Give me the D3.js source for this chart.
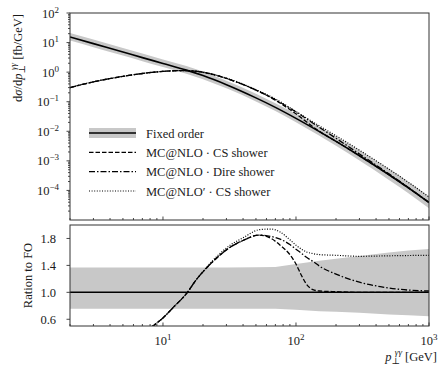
<!DOCTYPE html>
<html>
<head>
<meta charset="utf-8">
<style>
  body { margin: 0; background: white; }
  svg { display: block; }
  text { font-family: "Liberation Serif", "DejaVu Serif", serif; fill: #1a1a1a; }
  .frame { fill: none; stroke: #333; stroke-width: 1; }
  .tick { stroke: #333; stroke-width: 0.9; }
</style>
</head>
<body>
<script src="https://d3js.org/d3.v7.min.js"></script>
<script>

// --- data ---
// pT points (GeV) of the fixed order curve and its band
var pt = [2, 3, 5, 7, 10, 15, 20, 30, 50, 70, 100, 150, 200, 300, 500, 700, 1000];
var fixedOrder = [15.5, 9.2, 4.8, 3.1, 1.97, 1.17, 0.764, 0.376, 0.135, 0.0645, 0.0274, 0.00975, 0.00455, 0.00149, 0.000339, 0.000122, 0.0000388];
// scale band, relative to fixed order
var bandUp = [1.37, 1.37, 1.37, 1.37, 1.37, 1.37, 1.37, 1.37, 1.372, 1.375, 1.42, 1.47, 1.50, 1.54, 1.59, 1.62, 1.645];
var bandLo = [0.755, 0.755, 0.755, 0.755, 0.755, 0.755, 0.755, 0.755, 0.755, 0.755, 0.742, 0.72, 0.71, 0.695, 0.67, 0.66, 0.645];
// shower curves in the upper panel
var csShower   = [0.3, 0.47, 0.72, 0.9, 1.06, 1.13, 0.99, 0.61, 0.248, 0.113, 0.039, 0.0099, 0.0046, 0.00149, 0.000339, 0.000122, 0.0000388];
var direShower = [0.3, 0.47, 0.72, 0.9, 1.06, 1.13, 0.99, 0.61, 0.248, 0.117, 0.045, 0.01355, 0.00578, 0.00171, 0.000363, 0.000126, 0.0000396];
var csPrime    = [0.3, 0.47, 0.72, 0.9, 1.06, 1.13, 1.0, 0.63, 0.256, 0.124, 0.0466, 0.0152, 0.00705, 0.00229, 0.000522, 0.000188, 0.0000601];

// ratio panel
var ptRatio   = [7, 8.4, 10, 12, 15, 18, 21, 25, 32, 40, 53, 65, 76, 90, 100, 110, 120, 134, 150, 200, 300, 430, 600, 1000];
var ratioCS   = [0.38, 0.5, 0.62, 0.78, 0.98, 1.2, 1.35, 1.5, 1.67, 1.77, 1.85, 1.80, 1.70, 1.56, 1.42, 1.25, 1.12, 1.04, 1.02, 1.01, 1.0, 1.0, 1.0, 1.0];
var ratioDire = [0.38, 0.5, 0.62, 0.78, 0.98, 1.2, 1.35, 1.5, 1.67, 1.77, 1.85, 1.83, 1.79, 1.71, 1.64, 1.58, 1.52, 1.46, 1.39, 1.27, 1.15, 1.085, 1.045, 1.02];
var ratioCSp  = [0.38, 0.5, 0.62, 0.78, 0.98, 1.2, 1.36, 1.52, 1.70, 1.81, 1.93, 1.94, 1.895, 1.78, 1.70, 1.64, 1.60, 1.575, 1.56, 1.55, 1.535, 1.54, 1.545, 1.55];

var yTopTicks = [-4, -3, -2, -1, 0, 1, 2];
var yRatioTicks = [0.6, 1.0, 1.4, 1.8];
var xTicks = [1, 2, 3];

var legendNames = ["Fixed order", "MC@NLO · CS shower", "MC@NLO · Dire shower", "MC@NLO′ · CS shower"];

var width = 439, height = 368;
var left = 70, right = 429;
var top1 = 13, bot1 = 220, top2 = 225, bot2 = 326;

var svg = d3.select("body").append("svg")
    .attr("width", width)
    .attr("height", height);

var x = d3.scaleLog().domain([2, 1000]).range([left, right]);
var y1 = d3.scaleLog().domain([1e-5, 1e2]).range([bot1, top1]);
var y2 = d3.scaleLinear().domain([0.5, 2.0]).range([bot2, top2]);

var defs = svg.append("defs");
defs.append("clipPath").attr("id", "clipTop").append("rect")
    .attr("x", left).attr("y", top1).attr("width", right - left).attr("height", bot1 - top1);
defs.append("clipPath").attr("id", "clipBot").append("rect")
    .attr("x", left).attr("y", top2).attr("width", right - left).attr("height", bot2 - top2);

var styles = [
  {dash: null, w: 1.6},
  {dash: "4.5,2", w: 1.3},
  {dash: "6,2,1.5,2", w: 1.3},
  {dash: "1,1.6", w: 1.2}
];

// ---------- upper panel ----------
var gTop = svg.append("g").attr("clip-path", "url(#clipTop)");

var topData = pt.map(function(p, i) {
  return {p: p, fo: fixedOrder[i], up: fixedOrder[i] * bandUp[i], lo: fixedOrder[i] * bandLo[i]};
});

gTop.append("path")
    .datum(topData)
    .attr("fill", "#c8c8c8")
    .attr("d", d3.area()
      .x(function(d) { return x(d.p); })
      .y0(function(d) { return y1(d.lo); })
      .y1(function(d) { return y1(d.up); })
      .curve(d3.curveMonotoneX));

var lineTop = d3.line()
    .x(function(d) { return x(d[0]); })
    .y(function(d) { return y1(d[1]); })
    .curve(d3.curveMonotoneX);

[fixedOrder, csShower, direShower, csPrime].forEach(function(series, k) {
  gTop.append("path")
      .datum(pt.map(function(p, i) { return [p, series[i]]; }))
      .attr("fill", "none")
      .attr("stroke", "#000")
      .attr("stroke-width", styles[k].w)
      .attr("stroke-dasharray", styles[k].dash)
      .attr("d", lineTop);
});

svg.append("rect").attr("class", "frame")
    .attr("x", left).attr("y", top1).attr("width", right - left).attr("height", bot1 - top1);

// ---------- ratio panel ----------
var gBot = svg.append("g").attr("clip-path", "url(#clipBot)");

gBot.append("path")
    .datum(pt.map(function(p, i) { return [p, bandLo[i], bandUp[i]]; }))
    .attr("fill", "#c8c8c8")
    .attr("d", d3.area()
      .x(function(d) { return x(d[0]); })
      .y0(function(d) { return y2(d[1]); })
      .y1(function(d) { return y2(d[2]); }));

gBot.append("line")
    .attr("x1", left).attr("x2", right)
    .attr("y1", y2(1)).attr("y2", y2(1))
    .attr("stroke", "#000").attr("stroke-width", 1.5);

var lineBot = d3.line()
    .x(function(d) { return x(d[0]); })
    .y(function(d) { return y2(d[1]); })
    .curve(d3.curveMonotoneX);

[ratioCS, ratioDire, ratioCSp].forEach(function(series, k) {
  gBot.append("path")
      .datum(ptRatio.map(function(p, i) { return [p, series[i]]; }))
      .attr("fill", "none")
      .attr("stroke", "#000")
      .attr("stroke-width", styles[k + 1].w)
      .attr("stroke-dasharray", styles[k + 1].dash)
      .attr("d", lineBot);
});

svg.append("rect").attr("class", "frame")
    .attr("x", left).attr("y", top2).attr("width", right - left).attr("height", bot2 - top2);

// ---------- ticks ----------
function powLabel(g, xp, yp, exp, anchor) {
  var t = g.append("text")
      .attr("x", xp).attr("y", yp)
      .attr("text-anchor", anchor)
      .style("font-size", "12.5px");
  t.append("tspan").text("10");
  t.append("tspan").attr("dy", -5).style("font-size", "9px")
      .text(exp < 0 ? "−" + (-exp) : exp);
  return t;
}

var minorX = [];
[1, 10, 100].forEach(function(dec) {
  for (var m = 1; m < 10; m++) {
    var v = dec * m;
    if (v >= 2 && v <= 1000 && m != 1) minorX.push(v);
  }
});

[bot1, bot2].forEach(function(yb) {
  svg.selectAll(null).data(minorX).enter().append("line")
      .attr("class", "tick")
      .attr("x1", function(d) { return x(d); }).attr("x2", function(d) { return x(d); })
      .attr("y1", yb).attr("y2", yb - 2);
  svg.selectAll(null).data([10, 100, 1000]).enter().append("line")
      .attr("class", "tick")
      .attr("x1", function(d) { return x(d); }).attr("x2", function(d) { return x(d); })
      .attr("y1", yb).attr("y2", yb - 3.5);
});

xTicks.forEach(function(e) {
  powLabel(svg, x(Math.pow(10, e)), 345, e, "middle");
});

// y ticks, upper panel
var minorY = [];
for (var e = -5; e < 2; e++) {
  for (var m = 2; m < 10; m++) minorY.push(m * Math.pow(10, e));
}
svg.selectAll(null).data(minorY).enter().append("line")
    .attr("class", "tick")
    .attr("x1", left - 2).attr("x2", left)
    .attr("y1", function(d) { return y1(d); }).attr("y2", function(d) { return y1(d); });
svg.selectAll(null).data(yTopTicks).enter().append("line")
    .attr("class", "tick")
    .attr("x1", left - 3.5).attr("x2", left)
    .attr("y1", function(d) { return y1(Math.pow(10, d)); })
    .attr("y2", function(d) { return y1(Math.pow(10, d)); });
yTopTicks.forEach(function(e) {
  powLabel(svg, 59, y1(Math.pow(10, e)) + 4.5, e, "end");
});

// y ticks, ratio panel
svg.selectAll(null).data(yRatioTicks).enter().append("line")
    .attr("class", "tick")
    .attr("x1", left - 3.5).attr("x2", left)
    .attr("y1", function(d) { return y2(d); }).attr("y2", function(d) { return y2(d); });
svg.selectAll(null).data(yRatioTicks).enter().append("text")
    .attr("x", 56)
    .attr("y", function(d) { return y2(d) + 4.5; })
    .attr("text-anchor", "end")
    .style("font-size", "12.5px")
    .text(function(d) { return d.toFixed(1); });

// ---------- axis titles ----------
var yl = svg.append("text")
    .attr("transform", "translate(22,14) rotate(-90)")
    .attr("text-anchor", "end")
    .style("font-size", "12.5px");
yl.append("tspan").text("d");
yl.append("tspan").style("font-style", "italic").text("σ");
yl.append("tspan").text("/d");
yl.append("tspan").style("font-style", "italic").text("p");
yl.append("tspan").attr("dy", 3).style("font-size", "9px").text("⊥");
yl.append("tspan").attr("dy", -9).attr("dx", -5).style("font-size", "9px").style("font-style", "italic").text("γγ");
yl.append("tspan").attr("dy", 6).text(" [fb/GeV]");

svg.append("text")
    .attr("transform", "translate(32," + ((top2 + bot2) / 2 + 0) + ") rotate(-90)")
    .attr("text-anchor", "middle")
    .style("font-size", "12.5px")
    .text("Ration to FO");

var xl = svg.append("text")
    .attr("x", 437).attr("y", 361)
    .attr("text-anchor", "end")
    .style("font-size", "12.5px");
xl.append("tspan").style("font-style", "italic").text("p");
xl.append("tspan").attr("dy", 3).style("font-size", "9px").text("⊥");
xl.append("tspan").attr("dy", -9).attr("dx", -5).style("font-size", "9px").style("font-style", "italic").text("γγ");
xl.append("tspan").attr("dy", 6).text(" [GeV]");

// ---------- legend ----------
var legY = d3.scalePoint().domain(legendNames).range([133, 191]);
var leg = svg.append("g");
leg.append("rect")
    .attr("x", 89).attr("width", 47)
    .attr("y", legY(legendNames[0]) - 5).attr("height", 10)
    .attr("fill", "#c8c8c8");
legendNames.forEach(function(name, k) {
  leg.append("line")
      .attr("x1", 89).attr("x2", 136)
      .attr("y1", legY(name)).attr("y2", legY(name))
      .attr("stroke", "#000")
      .attr("stroke-width", styles[k].w)
      .attr("stroke-dasharray", styles[k].dash);
  leg.append("text")
      .attr("x", 146).attr("y", legY(name) + 4.5)
      .style("font-size", "12.5px")
      .text(name);
});

</script>
</body>
</html>
